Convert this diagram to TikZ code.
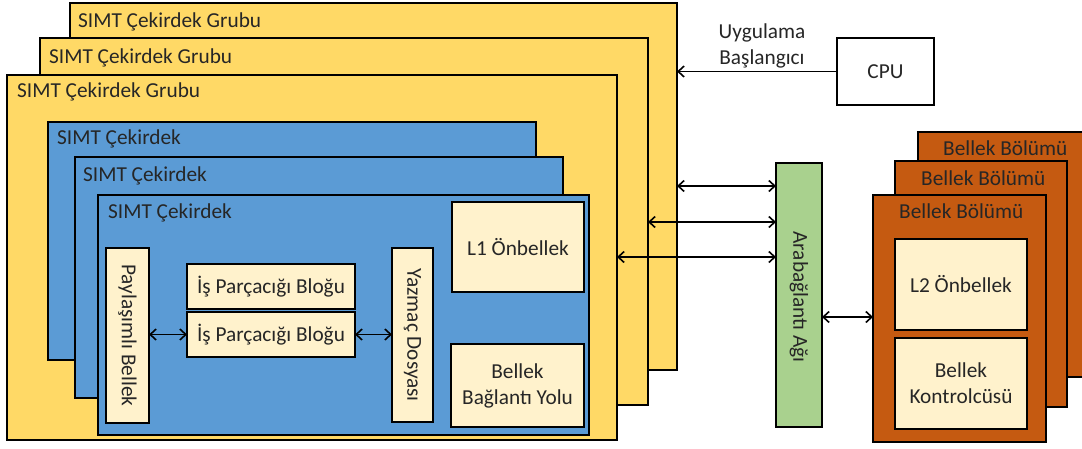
\documentclass[tikz,border=0pt]{standalone}
\usepackage{fontspec}
\setmainfont{Carlito}
\usetikzlibrary{arrows.meta}
\definecolor{ylw}{HTML}{FFD966}
\definecolor{blu}{HTML}{5B9BD5}
\definecolor{grn}{HTML}{A9D18E}
\definecolor{org}{HTML}{C55A11}
\definecolor{crm}{HTML}{FFF2CC}
\definecolor{txt}{HTML}{262626}
\newcommand\bx[7]{\node[#2, minimum width={#5-#3}, minimum height={#6-#4}] (#1) at ({(#3+#5)/2},{(#4+#6)/2}) {#7};}
\tikzset{
  box/.style={draw=black, line width=1.8pt, inner sep=0pt, outer sep=0pt, text=txt, font=\fontsize{21.3}{26}\selectfont, align=center},
  grp/.style={box, fill=ylw},
  core/.style={box, fill=blu},
  part/.style={box, fill=org},
  unit/.style={box, fill=crm},
  icn/.style={box, fill=grn},
  cpub/.style={box, fill=white},
  lbl/.style={text=txt, font=\fontsize{21.3}{26}\selectfont, inner sep=0pt, anchor=base west},
  vlbl/.style={text=txt, font=\fontsize{21.3}{26}\selectfont, rotate=-90, inner sep=0pt},
  conn/.style={line width=1.8pt, draw=black},
  arr/.style={conn, -{Straight Barb[length=6pt,width=11pt,line width=1.6pt]}},
  darr/.style={conn, {Straight Barb[length=6pt,width=11pt,line width=1.6pt]}-{Straight Barb[length=6pt,width=11pt,line width=1.6pt]}}
}
\begin{document}
\begin{tikzpicture}[x=1pt,y=-1pt]
\useasboundingbox (0,0) rectangle (1082,448);
% SIMT core groups
\bx{g3}{grp}{70}{3}{677}{370}{}
\node[lbl] (g3l) at (78,27) {SIMT Çekirdek Grubu};
\bx{g2}{grp}{40}{38}{648}{405}{}
\node[lbl] (g2l) at (49,63) {SIMT Çekirdek Grubu};
\bx{g1}{grp}{7}{75}{617}{440}{}
\node[lbl] (g1l) at (17,97) {SIMT Çekirdek Grubu};
% SIMT cores
\bx{c3}{core}{48}{122}{536}{360}{}
\node[lbl] (c3l) at (57,144) {SIMT Çekirdek};
\bx{c2}{core}{75}{157}{563}{398}{}
\node[lbl] (c2l) at (83,181) {SIMT Çekirdek};
\bx{c1}{core}{98}{195}{589}{435}{}
\node[lbl] (c1l) at (108,218) {SIMT Çekirdek};
% inner units
\bx{pb}{unit}{106}{248}{149}{423}{}
\node[vlbl] (pbl) at (pb.center) {Paylaşımlı Bellek};
\bx{tb1}{unit}{187}{264}{355}{309}{İş Parçacığı Bloğu}
\bx{tb2}{unit}{187}{312}{355}{357}{İş Parçacığı Bloğu}
\bx{yd}{unit}{392}{248}{433}{422}{}
\node[vlbl] (ydl) at (yd.center) {Yazmaç Dosyası};
\bx{l1}{unit}{452}{202}{584}{292}{L1 Önbellek}
\bx{bby}{unit}{451}{344}{584}{427}{Bellek\\Bağlantı Yolu}
\draw[darr] (pb.east |- tb2.west) -- (tb2.west);
\draw[darr] (tb2.east) -- (yd.west |- tb2.east);
% CPU
\bx{cpu}{cpub}{837}{38}{934}{105}{CPU}
\node[text=txt, font=\fontsize{21.3}{26}\selectfont, align=center, inner sep=0pt] (ul) at (762,46) {Uygulama\\Başlangıcı};
\draw[arr] (cpu.west) -- (g3.east |- cpu.west);
% interconnect
\bx{ic}{icn}{776}{163}{822}{427}{}
\node[vlbl] (icl) at (799,297) {Arabağlantı Ağı};
\draw[darr] (g3.east |- 0,186) -- (ic.west |- 0,186);
\draw[darr] (g2.east |- 0,222) -- (ic.west |- 0,222);
\draw[darr] (g1.east |- 0,257) -- (ic.west |- 0,257);
% memory partitions
\bx{m3}{part}{918}{132}{1090}{377}{}
\node[lbl] (m3l) at (943,155) {Bellek Bölümü};
\bx{m2}{part}{895}{161}{1067}{407}{}
\node[lbl] (m2l) at (921,185) {Bellek Bölümü};
\bx{m1}{part}{873}{195}{1046}{442}{}
\node[lbl] (m1l) at (899,218) {Bellek Bölümü};
\bx{l2}{unit}{895}{239}{1027}{330}{L2 Önbellek}
\bx{bk}{unit}{895}{338}{1027}{429}{Bellek\\Kontrolcüsü}
\draw[darr] (ic.east |- 0,317) -- (m1.west |- 0,317);
\end{tikzpicture}
\end{document}
